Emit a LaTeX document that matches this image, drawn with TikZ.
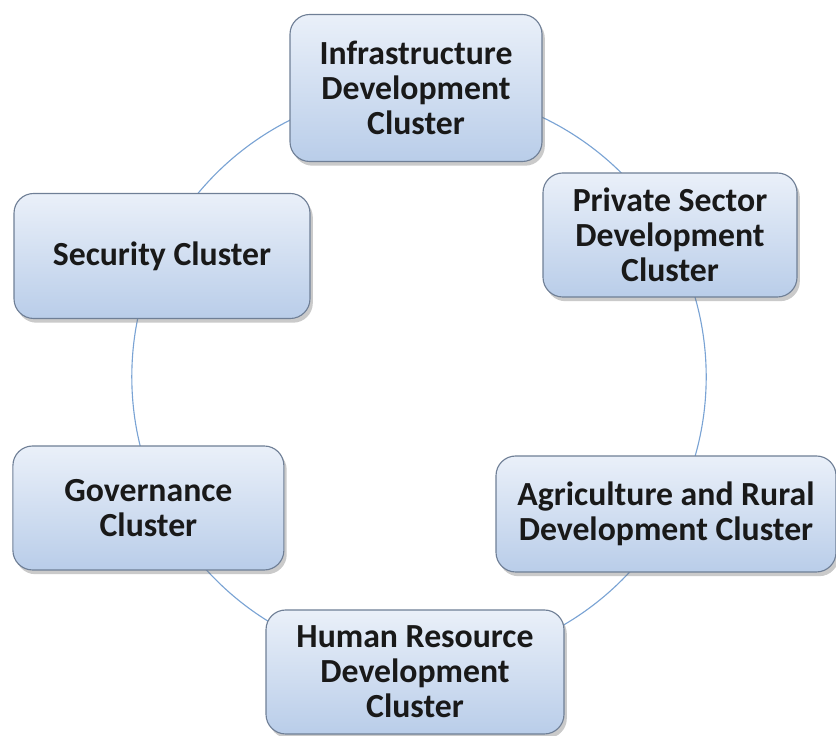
\documentclass[tikz,border=0pt]{standalone}
\usepackage{fontspec}
\setmainfont{Carlito}
\usetikzlibrary{shadows}
\definecolor{ringblue}{HTML}{7AA3D4}
\definecolor{boxtop}{HTML}{EAF0F9}
\definecolor{boxbot}{HTML}{B9CDE9}
\definecolor{boxedge}{HTML}{6F7F96}
\tikzset{
  cluster/.style={draw=boxedge, line width=0.8pt, rounded corners=14pt,
    top color=boxtop, bottom color=boxbot, align=center,
    font=\bfseries\fontsize{24}{24.8}\selectfont, text=black!90,
    drop shadow={shadow xshift=2pt, shadow yshift=-3pt, opacity=0.35, fill=black!60}},
}
\begin{document}
\begin{tikzpicture}
    \useasboundingbox (0,0) rectangle (20.9,18.4);
    % ring behind the clusters
    \coordinate (ctr) at (10.475,8.98);
    \draw[ringblue, line width=0.8pt] (ctr) circle (7.18cm);
    % clusters
    \node[cluster, minimum width=6.3cm, minimum height=3.675cm] (infra) at (10.4,16.2) {Infrastructure\\Development\\Cluster};
    \node[cluster, minimum width=6.35cm, minimum height=3.1cm] (private) at (16.75,12.525) {Private Sector\\Development\\Cluster};
    \node[cluster, minimum width=7.4cm, minimum height=3.125cm] (security) at (4.05,12.0) {Security Cluster};
    \node[cluster, minimum width=8.5cm, minimum height=2.9cm] (agri) at (16.65,5.55) {Agriculture and Rural\\Development Cluster};
    \node[cluster, minimum width=6.775cm, minimum height=3.1cm] (gov) at (3.71,5.7) {Governance\\Cluster};
    \node[cluster, minimum width=7.45cm, minimum height=3.1cm] (human) at (10.375,1.6) {Human Resource\\Development\\Cluster};
\end{tikzpicture}
\end{document}
